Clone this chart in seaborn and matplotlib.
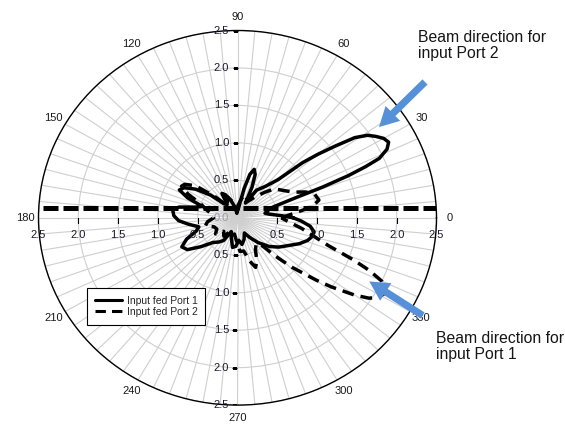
import numpy as np
import matplotlib
matplotlib.use("Agg")
import matplotlib.pyplot as plt
import seaborn as sns
from matplotlib.lines import Line2D
from matplotlib import font_manager

sns.set_style("white")
plt.rcParams['font.family'] = ['Liberation Sans', 'DejaVu Sans']

# ---------------- data ----------------
port1_deg = [0, 3, 7, 10, 13, 16, 18, 20, 21, 22, 23, 24, 26, 28, 30, 32, 34, 36, 38, 40,
             42, 45, 50, 57, 60, 63, 66, 69, 72, 75, 78, 82, 87, 92, 97, 103, 110, 116, 121,
             126, 132, 138, 144, 149, 153, 157, 161, 165, 169, 173, 178, 183, 188, 194, 199,
             204, 209, 214, 220, 227, 234, 240, 247, 254, 261, 267, 273, 279, 286, 293, 300,
             308, 316, 323, 330, 336, 341, 345, 349, 353, 357, 360]
port1_r = [0.70, 0.55, 0.40, 0.35, 0.38, 0.42, 0.48, 0.75, 1.15, 1.50, 1.75, 1.95, 2.09, 2.15,
           2.12, 2.05, 1.97, 1.82, 1.55, 1.32, 1.10, 0.72, 0.55, 0.44, 0.30, 0.22, 0.45, 0.62,
           0.68, 0.60, 0.40, 0.18, 0.10, 0.12, 0.06, 0.15, 0.25, 0.34, 0.38, 0.22, 0.25, 0.45,
           0.65, 0.78, 0.82, 0.68, 0.47, 0.55, 0.75, 0.82, 0.80, 0.74, 0.62, 0.50, 0.55, 0.70,
           0.80, 0.76, 0.60, 0.45, 0.40, 0.35, 0.20, 0.28, 0.40, 0.38, 0.30, 0.36, 0.30, 0.22,
           0.30, 0.42, 0.55, 0.65, 0.74, 0.85, 0.93, 0.97, 0.98, 0.92, 0.80, 0.70]

port2_deg = [0, 5, 9, 13, 18, 22, 26, 31, 36, 40, 45, 52, 60, 68, 75, 82, 90, 98, 106, 114,
             121, 128, 135, 141, 146, 149, 153, 158, 165, 172, 180, 188, 195, 202, 210, 218,
             226, 235, 244, 252, 260, 267, 274, 280, 285, 289, 293, 298, 304, 309, 313, 316,
             320, 322, 325, 327, 329, 331, 333, 335, 337, 339, 342, 345, 350, 355, 360]
port2_r = [0.55, 0.72, 0.95, 1.05, 1.02, 0.92, 0.78, 0.70, 0.64, 0.60, 0.48, 0.35, 0.25, 0.30,
           0.32, 0.22, 0.15, 0.20, 0.22, 0.30, 0.25, 0.20, 0.40, 0.68, 0.80, 0.82, 0.70, 0.50,
           0.40, 0.32, 0.30, 0.38, 0.42, 0.32, 0.30, 0.35, 0.25, 0.30, 0.20, 0.25, 0.22, 0.30,
           0.45, 0.45, 0.60, 0.70, 0.62, 0.48, 0.42, 0.45, 0.70, 0.95, 1.30, 1.50, 1.80, 1.97,
           2.06, 2.10, 2.08, 2.00, 1.80, 1.55, 1.20, 1.02, 0.82, 0.65, 0.55]

# straight dashed trace across the plot (Port 2)
port2_axis_deg = [177.2, 2.8]
port2_axis_r = [2.7, 2.7]

r_ticks = [0.5, 1.0, 1.5, 2.0, 2.5]
theta_ticks = [0, 30, 60, 90, 120, 150, 180, 210, 240, 270, 300, 330]
series_labels = ["Input fed Port 1", "Input fed Port 2"]
note_port2 = "Beam direction for\ninput Port 2"
note_port1 = "Beam direction for\ninput Port 1"

# ---------------- figure ----------------
W, H = 565, 426
fig = plt.figure(figsize=(W / 100, H / 100), dpi=100)
cx, cy, rx, ry = 237.5, 217.8, 199.0, 187.3
ax = fig.add_axes([(cx - rx) / W, (H - cy - ry) / H, 2 * rx / W, 2 * ry / H],
                  projection='polar')
ax.set_aspect('auto')

lw = 2.5
sns.lineplot(x=np.deg2rad(port1_deg), y=port1_r, ax=ax, sort=False, estimator=None,
             color='black', lw=lw, zorder=5)
sns.lineplot(x=np.deg2rad(port2_deg), y=port2_r, ax=ax, sort=False, estimator=None,
             color='black', lw=lw, linestyle=(0, (3.4, 2.0)), zorder=5)
sns.lineplot(x=np.deg2rad(port2_axis_deg), y=port2_axis_r, ax=ax, sort=False, estimator=None,
             color='black', lw=3.6, linestyle=(0, (3.0, 1.0)), zorder=5)

ax.set_rlim(0, 2.5)
ax.set_xlabel('')
ax.set_ylabel('')

grid_c = '#cfcfcf'
ax.set_xticks(np.deg2rad(theta_ticks))
ax.set_xticklabels([str(t) for t in theta_ticks])
ax.set_xticks(np.deg2rad(np.arange(0, 360, 5)), minor=True)
ax.set_yticks(r_ticks)
ax.set_yticklabels([])
ax.grid(True, which='both', color=grid_c, lw=0.8)
ax.tick_params(axis='x', which='major', length=3, width=0.8, direction='out',
               color='black', pad=-0.5, labelsize=8, labelcolor='#1a1a1a')
ax.tick_params(axis='x', which='minor', length=0)
ax.tick_params(axis='y', length=0)
ax.spines['polar'].set_color('black')
ax.spines['polar'].set_linewidth(1.0)

# radial labels along vertical and horizontal axes
lab_kw = dict(fontsize=8, color='#1a1a2e', textcoords='offset points', zorder=6)
for th in (90, 270):
    for r in r_ticks:
        ax.annotate(f"{r:.1f}", xy=(np.deg2rad(th), r), xytext=(-6, 0),
                    ha='right', va='center', **lab_kw)
    ax.plot(np.full(len(r_ticks), np.deg2rad(th)), r_ticks, ls='none', marker=0,
            ms=3.5, mew=0.8, color='black', zorder=6)
for th in (0, 180):
    for r in r_ticks:
        ax.annotate(f"{r:.1f}", xy=(np.deg2rad(th), r), xytext=(0, -8.5),
                    ha='center', va='top', **lab_kw)
    ax.plot(np.full(len(r_ticks), np.deg2rad(th)), r_ticks, ls='none', marker=3,
            ms=3.5, mew=0.8, color='black', zorder=6)
ax.annotate("0.0", xy=(np.deg2rad(90), 0), xytext=(-6, 0), ha='right', va='center',
            fontsize=8, color='#9a9aa8', textcoords='offset points', zorder=1)

# legend
handles = [Line2D([], [], color='black', lw=2.2),
           Line2D([], [], color='black', lw=2.2, linestyle=(0, (3.4, 2.0)))]
leg = fig.legend(handles, series_labels, loc='upper left',
                 bbox_to_anchor=(86.7 / W, 1 - 288 / H), fontsize=7.5, frameon=True,
                 fancybox=False, framealpha=1, edgecolor='black', handlelength=2.6,
                 handletextpad=0.5, borderpad=0.75, labelspacing=0.1, borderaxespad=0)
leg.get_frame().set_linewidth(0.8)

# annotations with blue arrows
names = {f.name for f in font_manager.fontManager.ttflist}
if 'Liberation Sans Narrow' in names:
    note_font, note_size = ['Liberation Sans Narrow', 'DejaVu Sans'], 13.5
else:
    note_font, note_size = ['Liberation Sans', 'DejaVu Sans'], 11.3
blue = '#5590d8'
fig.text(418 / W, 1 - 30 / H, note_port2, fontsize=note_size, family=note_font,
         va='top', ha='left', color='#151515', linespacing=1.05)
fig.text(436 / W, 1 - 331 / H, note_port1, fontsize=note_size, family=note_font,
         va='top', ha='left', color='#151515', linespacing=1.05)
arrow_style = 'simple,head_width=0.75,head_length=0.7,tail_width=0.26'
fig.add_artist(matplotlib.patches.FancyArrowPatch(
    posA=(427, H - 80), posB=(377, H - 129), transform=None,
    arrowstyle=arrow_style, mutation_scale=20, color=blue, lw=0, zorder=10))
fig.add_artist(matplotlib.patches.FancyArrowPatch(
    posA=(425, H - 317), posB=(367, H - 280), transform=None,
    arrowstyle=arrow_style, mutation_scale=20, color=blue, lw=0, zorder=10))

fig.savefig('out.png', dpi=100)
